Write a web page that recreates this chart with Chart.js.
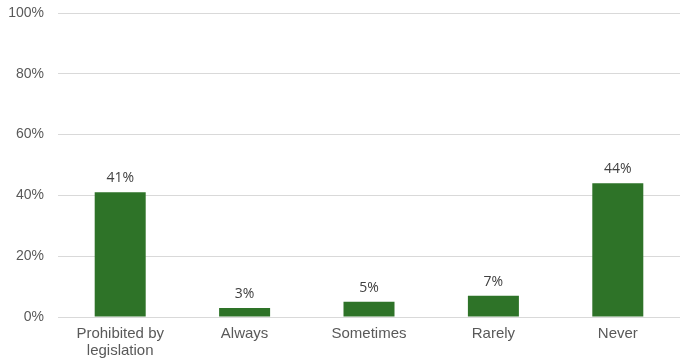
<!DOCTYPE html>
<html><head><meta charset="utf-8">
<script src="https://cdn.jsdelivr.net/npm/chart.js@4/dist/chart.umd.min.js"></script>
<style>html,body{margin:0;padding:0;background:#fff}#wrap{width:682px;height:362px}</style>
</head><body><div id="wrap"><canvas id="c" width="682" height="362"></canvas></div>
<script>
const categories = [["Prohibited by","legislation"],"Always","Sometimes","Rarely","Never"];
const values = [41, 3, 5, 7, 44];
const yTicks = [0, 20, 40, 60, 80, 100];

const labelPlugin = {
  id: 'barLabels',
  afterDatasetsDraw(chart) {
    const ctx = chart.ctx;
    const meta = chart.getDatasetMeta(0);
    ctx.save();
    ctx.font = '14px "Open Sans", sans-serif';
    ctx.fillStyle = '#404040';
    ctx.textAlign = 'center';
    ctx.textBaseline = 'bottom';
    meta.data.forEach((bar, i) => {
      ctx.fillText(values[i] + '%', bar.x, bar.y - 7);
    });
    ctx.restore();
  }
};

new Chart(document.getElementById('c'), {
  type: 'bar',
  data: { labels: categories, datasets: [{ data: values, backgroundColor: '#2E7328', barPercentage: 0.82, categoryPercentage: 0.5 }] },
  options: {
    responsive: false, animation: false,
    layout: { padding: { top: 13, right: 2, left: 0, bottom: 0 } },
    plugins: { legend: { display: false }, tooltip: { enabled: false } },
    scales: {
      x: {
        grid: { display: false, drawTicks: false },
        border: { display: false },
        ticks: { color: '#595959', font: { family: '"Liberation Sans", Arial, sans-serif', size: 15, lineHeight: 1.15 }, padding: 8, maxRotation: 0 },
        afterFit(s) { s.height = 45; s.paddingLeft = 0; s.paddingRight = 0; }
      },
      y: {
        min: 0, max: 100,
        afterBuildTicks(s) { s.ticks = yTicks.map(v => ({ value: v })); },
        grid: { color: '#d9d9d9', drawTicks: false, lineWidth: 1 },
        border: { display: false },
        ticks: { color: '#595959', font: { family: '"Liberation Sans", Arial, sans-serif', size: 14 }, padding: 14, callback: v => v + '%' },
        afterFit(s) { s.width = 58; s.paddingTop = 0; s.paddingBottom = 0; }
      }
    }
  },
  plugins: [labelPlugin]
});
</script></body></html>
